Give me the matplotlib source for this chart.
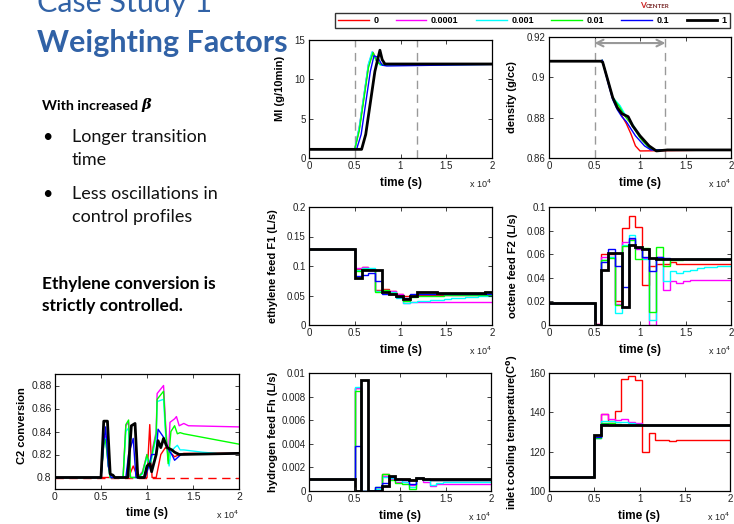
import numpy as np
import matplotlib
matplotlib.use('Agg')
import matplotlib.pyplot as plt
from matplotlib.ticker import FuncFormatter
from matplotlib.lines import Line2D

W, H = 734, 524

# ---------------- data ----------------
labels = ['0', '0.0001', '0.001', '0.01', '0.1', '1']
colors = ['#ff0000', '#ff00ff', '#00ffff', '#00ff00', '#0000ff', '#000000']

# control interval edges (s)
edges = [0, 5000, 5750, 6500, 7250, 8000, 8750, 9500, 10250, 11000, 11750,
         12500, 13250, 14000, 14750, 15500, 16250, 17000, 17750, 18500, 19250, 20000]

f1 = {
    '0':      [0.128, 0.095, 0.098, 0.094, 0.060, 0.061, 0.058, 0.052, 0.050, 0.050, 0.051,
               0.051, 0.051, 0.051, 0.051, 0.051, 0.051, 0.051, 0.051, 0.051, 0.051],
    '0.0001': [0.128, 0.097, 0.099, 0.095, 0.058, 0.060, 0.057, 0.052, 0.037, 0.039, 0.039,
               0.039, 0.039, 0.039, 0.039, 0.039, 0.039, 0.039, 0.039, 0.039, 0.039],
    '0.001':  [0.128, 0.094, 0.097, 0.097, 0.058, 0.058, 0.056, 0.046, 0.038, 0.039, 0.040,
               0.041, 0.042, 0.043, 0.044, 0.045, 0.046, 0.047, 0.048, 0.049, 0.050],
    '0.01':   [0.128, 0.092, 0.095, 0.094, 0.056, 0.059, 0.055, 0.048, 0.040, 0.048, 0.050,
               0.050, 0.050, 0.050, 0.051, 0.051, 0.051, 0.051, 0.051, 0.051, 0.051],
    '0.1':    [0.128, 0.083, 0.085, 0.088, 0.074, 0.053, 0.052, 0.048, 0.045, 0.052, 0.053,
               0.053, 0.053, 0.053, 0.052, 0.052, 0.052, 0.052, 0.052, 0.052, 0.052],
    '1':      [0.128, 0.080, 0.094, 0.094, 0.094, 0.056, 0.052, 0.050, 0.044, 0.050, 0.056,
               0.056, 0.056, 0.054, 0.054, 0.054, 0.054, 0.054, 0.054, 0.054, 0.056],
}

f2 = {
    '0':      [0.019, 0.001, 0.060, 0.060, 0.020, 0.082, 0.092, 0.083, 0.034, 0.050, 0.052,
               0.052, 0.053, 0.052, 0.052, 0.052, 0.052, 0.052, 0.052, 0.052, 0.052],
    '0.0001': [0.019, 0.001, 0.058, 0.058, 0.018, 0.070, 0.073, 0.064, 0.057, 0.000, 0.058,
               0.030, 0.037, 0.036, 0.037, 0.038, 0.038, 0.038, 0.038, 0.038, 0.038],
    '0.001':  [0.019, 0.000, 0.055, 0.058, 0.010, 0.068, 0.076, 0.066, 0.056, 0.004, 0.057,
               0.037, 0.046, 0.044, 0.046, 0.047, 0.048, 0.049, 0.049, 0.050, 0.050],
    '0.01':   [0.019, 0.000, 0.055, 0.057, 0.017, 0.067, 0.072, 0.056, 0.065, 0.011, 0.066,
               0.050, 0.055, 0.055, 0.056, 0.056, 0.056, 0.056, 0.056, 0.056, 0.056],
    '0.1':    [0.019, 0.000, 0.053, 0.064, 0.050, 0.032, 0.074, 0.065, 0.058, 0.046, 0.058,
               0.057, 0.056, 0.056, 0.056, 0.056, 0.056, 0.056, 0.056, 0.056, 0.056],
    '1':      [0.019, 0.000, 0.047, 0.061, 0.061, 0.015, 0.068, 0.066, 0.064, 0.057, 0.056,
               0.056, 0.056, 0.056, 0.056, 0.056, 0.056, 0.056, 0.056, 0.056, 0.056],
}

fh = {
    '0':      [0.001, 0.0087, 0, 0, 0.0002, 0.0014, 0.0011, 0.0010, 0.0010, 0.0009, 0.0011,
               0.0010, 0.0009, 0.0009, 0.0009, 0.0009, 0.0009, 0.0009, 0.0009, 0.0009, 0.0009],
    '0.0001': [0.001, 0.0087, 0, 0, 0.0001, 0.0013, 0.0010, 0.0008, 0.0008, 0.0005, 0.0011,
               0.0008, 0.0004, 0.0006, 0.0006, 0.0006, 0.0006, 0.0006, 0.0006, 0.0006, 0.0006],
    '0.001':  [0.001, 0.0088, 0, 0, 0.0002, 0.0012, 0.0011, 0.0009, 0.0008, 0.0003, 0.0011,
               0.0009, 0.0005, 0.0007, 0.0008, 0.0008, 0.0008, 0.0008, 0.0008, 0.0008, 0.0008],
    '0.01':   [0.001, 0.0085, 0, 0, 0.0003, 0.0014, 0.0009, 0.0007, 0.0006, 0.0002, 0.0011,
               0.0010, 0.0009, 0.0009, 0.0009, 0.0009, 0.0009, 0.0009, 0.0009, 0.0009, 0.0009],
    '0.1':    [0.001, 0.0038, 0, 0, 0.0003, 0.0007, 0.0012, 0.0010, 0.0009, 0.0006, 0.0011,
               0.0010, 0.0009, 0.0009, 0.0009, 0.0009, 0.0009, 0.0009, 0.0009, 0.0009, 0.0009],
    '1':      [0.001, 0.0, 0.0094, 0, 0, 0.0004, 0.0013, 0.0010, 0.0010, 0.0009, 0.0011,
               0.0010, 0.0010, 0.0010, 0.0010, 0.0010, 0.0010, 0.0010, 0.0010, 0.0010, 0.0010],
}

tin = {
    '0':      [107, 127.5, 139.0, 135.5, 140.5, 157.0, 158.5, 156.5, 120.0, 129.5, 126.0,
               126.0, 125.5, 126.0, 126.0, 126.0, 126.0, 126.0, 126.0, 126.0, 126.0],
    '0.0001': [107, 127.0, 139.0, 136.5, 136.0, 136.5, 135.0, 134.5, 133.5, 133.5, 133.5,
               133.5, 133.5, 133.5, 133.5, 133.5, 133.5, 133.5, 133.5, 133.5, 133.5],
    '0.001':  [107, 127.0, 135.5, 135.5, 135.0, 135.0, 134.5, 134.0, 133.5, 133.5, 133.5,
               133.5, 133.5, 133.5, 133.5, 133.5, 133.5, 133.5, 133.5, 133.5, 133.5],
    '0.01':   [107, 127.0, 134.5, 134.5, 134.0, 133.8, 133.6, 133.5, 133.5, 133.5, 133.5,
               133.5, 133.5, 133.5, 133.5, 133.5, 133.5, 133.5, 133.5, 133.5, 133.5],
    '0.1':    [107, 127.5, 134.0, 133.8, 133.6, 133.5, 133.5, 133.5, 133.5, 133.5, 133.5,
               133.5, 133.5, 133.5, 133.5, 133.5, 133.5, 133.5, 133.5, 133.5, 133.5],
    '1':      [107, 128.5, 133.5, 133.5, 133.5, 133.5, 133.5, 133.5, 133.5, 133.5, 133.5,
               133.5, 133.5, 133.5, 133.5, 133.5, 133.5, 133.5, 133.5, 133.5, 133.5],
}

# MI (g/10min) trajectories: (time, value)
mi = {
    '0':      ([0, 5000, 5500, 6000, 6500, 7000, 7400, 7800, 20000],
               [1.1, 1.1, 3.8, 7.8, 11.8, 13.4, 12.4, 11.9, 11.9]),
    '0.0001': ([0, 5000, 5500, 6000, 6500, 6950, 7350, 7800, 20000],
               [1.1, 1.1, 3.9, 7.9, 11.9, 13.5, 12.4, 11.9, 11.9]),
    '0.001':  ([0, 5000, 5500, 6000, 6500, 6900, 7300, 7800, 20000],
               [1.1, 1.1, 4.0, 8.0, 12.0, 13.5, 12.5, 11.8, 11.9]),
    '0.01':   ([0, 5000, 5500, 6000, 6500, 7000, 7400, 7800, 20000],
               [1.1, 1.1, 3.5, 7.5, 11.5, 13.4, 12.3, 11.9, 11.9]),
    '0.1':    ([0, 5200, 5700, 6200, 6700, 7100, 7500, 8000, 8500, 20000],
               [1.1, 1.1, 3.0, 7.0, 11.0, 13.0, 12.8, 11.8, 11.7, 11.9]),
    '1':      ([0, 5750, 6200, 6700, 7200, 7500, 7750, 8000, 8300, 20000],
               [1.1, 1.1, 3.0, 7.0, 11.0, 12.5, 13.7, 12.5, 11.95, 11.95]),
}

# density (g/cc) trajectories
dens = {
    '0':      ([0, 5700, 5850, 6500, 7000, 7500, 8000, 8500, 9000, 9500, 10000, 20000],
               [0.908, 0.908, 0.9085, 0.898, 0.890, 0.885, 0.881, 0.877, 0.872, 0.866, 0.8635, 0.864]),
    '0.0001': ([0, 5700, 5850, 6500, 7000, 7500, 8000, 8500, 9300, 10200, 11200, 20000],
               [0.908, 0.908, 0.9085, 0.898, 0.890, 0.885, 0.883, 0.880, 0.875, 0.869, 0.864, 0.864]),
    '0.001':  ([0, 5700, 5850, 6500, 7000, 7800, 8300, 9000, 10000, 11000, 11500, 20000],
               [0.908, 0.908, 0.9085, 0.898, 0.890, 0.886, 0.882, 0.878, 0.871, 0.865, 0.864, 0.864]),
    '0.01':   ([0, 5700, 5850, 6500, 7000, 7800, 8300, 9000, 10000, 11000, 11500, 20000],
               [0.908, 0.908, 0.9085, 0.898, 0.890, 0.885, 0.881, 0.877, 0.870, 0.865, 0.864, 0.864]),
    '0.1':    ([0, 5700, 5850, 6500, 7000, 7500, 8000, 8500, 9500, 10500, 11200, 20000],
               [0.908, 0.908, 0.9085, 0.897, 0.889, 0.884, 0.8805, 0.878, 0.871, 0.866, 0.864, 0.864]),
    '1':      ([0, 5700, 5900, 6500, 7000, 7500, 8000, 8700, 9200, 10000, 11000, 11800, 13000, 20000],
               [0.908, 0.908, 0.9075, 0.898, 0.890, 0.885, 0.882, 0.8805, 0.876, 0.871, 0.866, 0.8635, 0.864, 0.864]),
}

# C2 conversion trajectories
c2 = {
    '0':      ([0, 8000, 8500, 9000, 10000, 10300, 10550, 11000, 11500, 12000, 12500, 13000, 13500, 14000, 20000],
               [0.8, 0.8, 0.81, 0.8, 0.8, 0.846, 0.8, 0.8, 0.82, 0.826, 0.822, 0.818, 0.82, 0.821, 0.821]),
    '0.0001': ([0, 5000, 5300, 5500, 5800, 6000, 7400, 7700, 8000, 8200, 9000, 9500, 10000, 10300, 10600,
                11000, 11100, 11800, 12000, 12300, 12500, 13000, 13200, 13500, 14000, 14500, 20000],
               [0.8, 0.8, 0.83, 0.836, 0.81, 0.8, 0.8, 0.845, 0.848, 0.8, 0.8, 0.805, 0.82, 0.81, 0.825,
                0.84, 0.873, 0.880, 0.85, 0.815, 0.848, 0.851, 0.853, 0.845, 0.847, 0.845, 0.844]),
    '0.001':  ([0, 5000, 5300, 5500, 5800, 6000, 7400, 7700, 8000, 8200, 9000, 9500, 10000, 10300, 10600,
                11000, 11100, 11800, 12000, 12400, 12600, 13000, 13300, 13600, 14000, 16000, 17500],
               [0.8, 0.8, 0.83, 0.834, 0.81, 0.8, 0.8, 0.84, 0.843, 0.8, 0.8, 0.803, 0.818, 0.808, 0.82,
                0.835, 0.866, 0.868, 0.84, 0.81, 0.822, 0.826, 0.828, 0.824, 0.824, 0.822, 0.821]),
    '0.01':   ([0, 5000, 5300, 5500, 5800, 6000, 7400, 7700, 8000, 8200, 9000, 9500, 10000, 10300, 10600,
                11000, 11100, 11800, 12000, 12300, 12600, 13000, 13300, 13600, 14000, 20000],
               [0.8, 0.8, 0.828, 0.833, 0.81, 0.8, 0.8, 0.846, 0.85, 0.8, 0.8, 0.804, 0.82, 0.81, 0.823,
                0.838, 0.868, 0.875, 0.845, 0.812, 0.84, 0.845, 0.838, 0.839, 0.838, 0.829]),
    '0.1':    ([0, 5000, 5300, 5500, 5800, 6100, 7700, 8000, 8500, 8800, 9800, 10200, 10500, 11000, 11200,
                11800, 12200, 12700, 13000, 13700, 20000],
               [0.8, 0.8, 0.83, 0.844, 0.81, 0.8, 0.8, 0.82, 0.834, 0.8, 0.8, 0.81, 0.82, 0.82, 0.842,
                0.835, 0.826, 0.82, 0.815, 0.82, 0.821]),
    '1':      ([0, 5000, 5300, 5700, 6000, 6300, 6500, 7900, 8300, 8700, 9000, 9700, 10000, 10300, 10500,
                11000, 11200, 11500, 11800, 12200, 12700, 13000, 13500, 20000],
               [0.8, 0.8, 0.849, 0.849, 0.803, 0.802, 0.8, 0.8, 0.845, 0.847, 0.8, 0.8, 0.81, 0.812, 0.805,
                0.82, 0.832, 0.826, 0.834, 0.826, 0.824, 0.822, 0.82, 0.821]),
}
c2_bound = 0.8

# ---------------- styling ----------------
plt.rcParams['font.family'] = ['Liberation Sans', 'DejaVu Sans']
blue_title = '#3162A6'
slide_font = ['Lato', 'DejaVu Sans']

fig = plt.figure(figsize=(W / 100, H / 100), dpi=100)


def box(l, t, r, b):
    return [l / W, 1 - b / H, (r - l) / W, (b - t) / H]


def fmt_num(v, p):
    return f'{round(v, 6):g}'


def setup(ax, ylim, yticks, ylabel, ylab_x, ylab_y=0.5, tick_fs=7, xlab_y=-19):
    hpx = ax.get_position().height * H
    wpx = ax.get_position().width * W
    ax.set_xlim(0, 20000)
    ax.set_ylim(*ylim)
    ax.set_xticks([0, 5000, 10000, 15000, 20000])
    ax.set_yticks(yticks)
    ax.xaxis.set_major_formatter(FuncFormatter(lambda v, p: f'{v / 1e4:g}'))
    ax.yaxis.set_major_formatter(FuncFormatter(fmt_num))
    ax.tick_params(direction='in', length=3, width=0.6, top=True, right=True,
                   labelsize=tick_fs, pad=2.5, colors='#222222')
    for s in ax.spines.values():
        s.set_linewidth(0.9)
    ax.set_xlabel('time (s)', fontsize=8.5, fontweight='bold')
    ax.xaxis.set_label_coords(0.5, xlab_y / hpx)
    ax.set_ylabel(ylabel, fontsize=8, fontweight='bold')
    ax.yaxis.set_label_coords(ylab_x / wpx, ylab_y)
    ax.text(1.0, -30 / hpx, r'x 10$^{4}$', transform=ax.transAxes, ha='right',
            va='baseline', fontsize=6.5, color='#222222')


def draw_stairs(ax, data):
    for lab, c in zip(labels, colors):
        lw = 2.0 if lab == '1' else 1.0
        ax.stairs(data[lab], edges, baseline=None, color=c, lw=lw)


def draw_lines(ax, data):
    for lab, c in zip(labels, colors):
        lw = 2.0 if lab == '1' else 1.0
        t, v = data[lab]
        ax.plot(t, v, color=c, lw=lw)


# MI
ax = fig.add_axes(box(309, 40, 492, 158))
for xv in (5000, 11800):
    ax.axvline(xv, color='#999999', ls=(0, (6, 4)), lw=1)
draw_lines(ax, mi)
setup(ax, (0, 15), [0, 5, 10, 15], 'MI (g/10min)', -24, ylab_y=0.59)

# density
ax = fig.add_axes(box(549, 37, 731, 158))
for xv in (5000, 12800):
    ax.axvline(xv, color='#999999', ls=(0, (6, 4)), lw=1)
ax.annotate('', xy=(12800, 0.917), xytext=(5000, 0.917),
            arrowprops=dict(arrowstyle='<->', color='#999999', lw=1.5, mutation_scale=12,
                            shrinkA=0, shrinkB=0))
draw_lines(ax, dens)
setup(ax, (0.86, 0.92), [0.86, 0.88, 0.90, 0.92], 'density (g/cc)', -32)

# ethylene feed
ax = fig.add_axes(box(309, 207, 492, 325))
draw_stairs(ax, f1)
setup(ax, (0, 0.2), [0, 0.05, 0.1, 0.15, 0.2], 'ethylene feed F1 (L/s)', -31)

# octene feed
ax = fig.add_axes(box(549, 207, 731, 325))
draw_stairs(ax, f2)
setup(ax, (0, 0.1), [0, 0.02, 0.04, 0.06, 0.08, 0.1], 'octene feed F2 (L/s)', -31)

# hydrogen feed
ax = fig.add_axes(box(309, 373, 491, 491))
draw_stairs(ax, fh)
setup(ax, (0, 0.01), [0, 0.002, 0.004, 0.006, 0.008, 0.01], 'hydrogen feed Fh (L/s)', -31)

# inlet cooling temperature
ax = fig.add_axes(box(549, 373, 730, 491))
draw_stairs(ax, tin)
setup(ax, (100, 160), [100, 120, 140, 160], r'inlet cooling temperature(C$^{\mathbf{o}}$)', -29)

# C2 conversion
ax = fig.add_axes(box(55, 374, 239, 489))
ax.plot([0, 20000], [c2_bound, c2_bound], color='#ff0000', ls=(0, (6, 4)), lw=1)
draw_lines(ax, c2)
setup(ax, (0.79, 0.89), [0.8, 0.82, 0.84, 0.86, 0.88], 'C2 conversion', -28,
      ylab_y=0.55, tick_fs=7.5, xlab_y=-18)

# legend
handles = [Line2D([], [], color=c, lw=2.0 if l == '1' else 1.0) for l, c in zip(labels, colors)]
leg = fig.legend(handles, labels, loc='lower left', ncol=6, mode='expand',
                 bbox_to_anchor=(335 / W, 1 - 28 / H, 395 / W, 19 / H),
                 prop={'size': 6.5, 'weight': 'bold'}, handlelength=3.4,
                 handletextpad=0.5, columnspacing=2.0, borderpad=0.35,
                 frameon=True, fancybox=False, edgecolor='black', borderaxespad=0)
leg.get_frame().set_linewidth(1.0)

# partially visible logo
fig.text(640 / W, 1 - 8 / H, 'V', color='#cc2222', fontsize=6, fontweight='bold',
         va='baseline', family=slide_font)
fig.text(646 / W, 1 - 8 / H, 'CENTER', color='#7a2a2a', fontsize=4.5, fontweight='bold',
         va='baseline', family=slide_font)

# slide text
fig.text(37 / W, 1 - 12 / H, 'Case Study 1', color=blue_title, fontsize=22,
         va='baseline', family=slide_font)
fig.text(37 / W, 1 - 52 / H, 'Weighting Factors', color=blue_title, fontsize=22,
         fontweight='bold', va='baseline', family=slide_font)

t1 = fig.text(42 / W, 1 - 110 / H, 'With increased ', fontsize=10.3, fontweight='bold',
              va='baseline', family=slide_font)
plt.annotate('β', xy=(1, 0), xycoords=t1, fontsize=10.5, fontweight='bold', style='italic',
             va='bottom', family=['DejaVu Serif'])

bullets = [('Longer transition', 142), ('time', 165),
           ('Less oscillations in', 199), ('control profiles', 222)]
for txt, yb in bullets:
    fig.text(72 / W, 1 - yb / H, txt, fontsize=13, va='baseline', family=slide_font,
             color='#111111')
for yb in (142, 199):
    fig.text(42 / W, 1 - yb / H, '•', fontsize=13, va='baseline', family=slide_font)

fig.text(42 / W, 1 - 289 / H, 'Ethylene conversion is', fontsize=12.5, fontweight='bold',
         va='baseline', family=slide_font)
fig.text(42 / W, 1 - 311 / H, 'strictly controlled.', fontsize=12.5, fontweight='bold',
         va='baseline', family=slide_font)

fig.savefig('out.png', dpi=100)
